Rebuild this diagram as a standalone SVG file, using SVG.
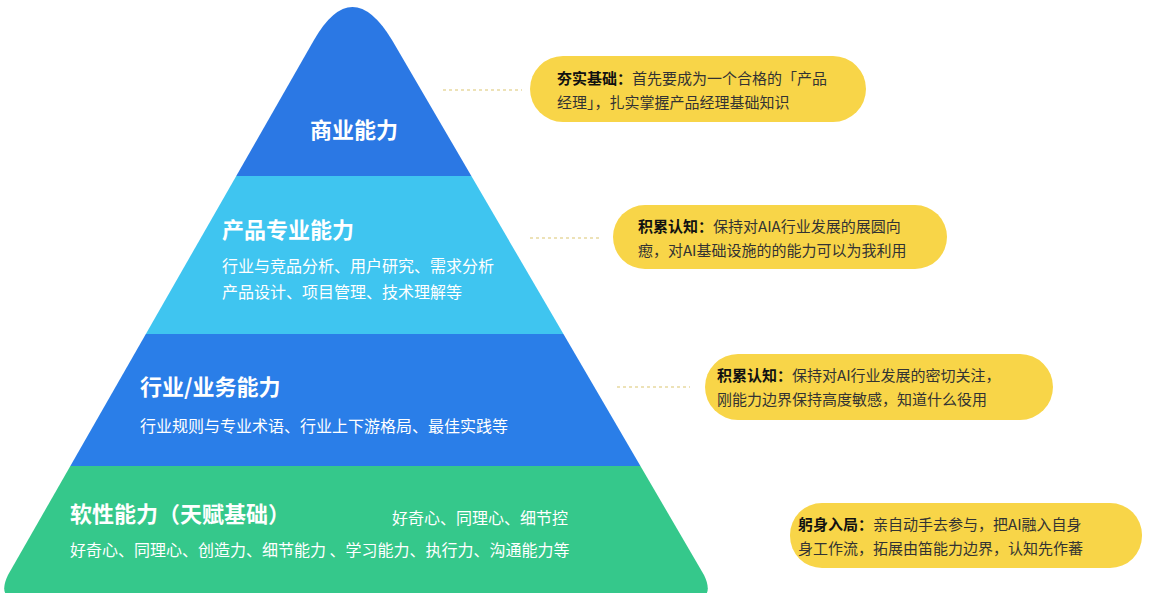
<svg xmlns="http://www.w3.org/2000/svg" width="1160" height="593" viewBox="0 0 1160 593">
<style>
.w{fill:#fff;font-family:"Noto Sans CJK SC","Noto Sans",sans-serif}
.t{font-size:22px;font-weight:bold}
.s{font-size:16px}
.c{fill:#f8d548}
.ct{font-family:"Noto Sans CJK SC",sans-serif;font-size:15px;fill:#333}
.ct tspan.b{font-weight:bold;fill:#111}
.d{stroke:#e8d9a0;stroke-width:1.5;stroke-dasharray:3 3;fill:none}
</style>
<defs><clipPath id="pc"><path d="M314 40 Q352 -26 392 40 L704 575 Q716 600 690 600 L22 600 Q-4 600 8 575 Z"/></clipPath></defs>
<rect width="1160" height="593" fill="#fff"/>
<g clip-path="url(#pc)">
<g id="n1"><rect x="0" y="0" width="760" height="176" fill="#2b78e4"/><text class="w t" x="354" y="138" text-anchor="middle">商业能力</text></g>
<g id="n2"><rect x="0" y="176" width="760" height="158" fill="#3fc5f0"/>
<text class="w t" x="222" y="238">产品专业能力</text>
<text class="w s" x="222" y="272">行业与竞品分析、用户研究、需求分析</text>
<text class="w s" x="222" y="298">产品设计、项目管理、技术理解等</text></g>
<g id="n3"><rect x="0" y="334" width="760" height="132" fill="#2a7ee8"/>
<text class="w t" x="140" y="395">行业/业务能力</text>
<text class="w s" x="140" y="432">行业规则与专业术语、行业上下游格局、最佳实践等</text></g>
<g id="n4"><rect x="0" y="466" width="760" height="140" fill="#35c88b"/>
<text class="w t" x="70" y="522">软性能力（天赋基础）</text>
<text class="w s" x="392" y="524">好奇心、同理心、细节控</text>
<text class="w s" x="70" y="556">好奇心、同理心、创造力、细节能力 、学习能力、执行力、沟通能力等</text></g>
</g>
<g id="connectors">
<line class="d" x1="443" y1="90" x2="522" y2="90"/>
<line class="d" x1="530" y1="238" x2="600" y2="238"/>
<line class="d" x1="617" y1="387" x2="690" y2="387"/>
</g>
<g id="c1"><rect class="c" x="530" y="56" width="336" height="66" rx="33"/>
<text class="ct" x="557" y="84"><tspan class="b">夯实基础：</tspan>首先要成为一个合格的「产品</text>
<text class="ct" x="557" y="108">经理」，扎实掌握产品经理基础知识</text></g>
<g id="c2"><rect class="c" x="613" y="205" width="334" height="64" rx="32"/>
<text class="ct" x="638" y="232"><tspan class="b">积累认知：</tspan>保持对AIA行业发展的展圆向</text>
<text class="ct" x="638" y="256">瘛，对AI基础设施的的能力可以为我利用</text></g>
<g id="c3"><rect class="c" x="705" y="354" width="348" height="66" rx="33"/>
<text class="ct" x="717" y="381"><tspan class="b">积累认知：</tspan>保持对AI行业发展的密切关注，</text>
<text class="ct" x="717" y="405">刚能力边界保持高度敏感，知道什么役用</text></g>
<g id="c4"><rect class="c" x="790" y="503" width="352" height="65" rx="32"/>
<text class="ct" x="798" y="530"><tspan class="b">躬身入局：</tspan>亲自动手去参与，把AI融入自身</text>
<text class="ct" x="798" y="554">身工作流，拓展由笛能力边界，认知先作蕃</text></g>
</svg>
